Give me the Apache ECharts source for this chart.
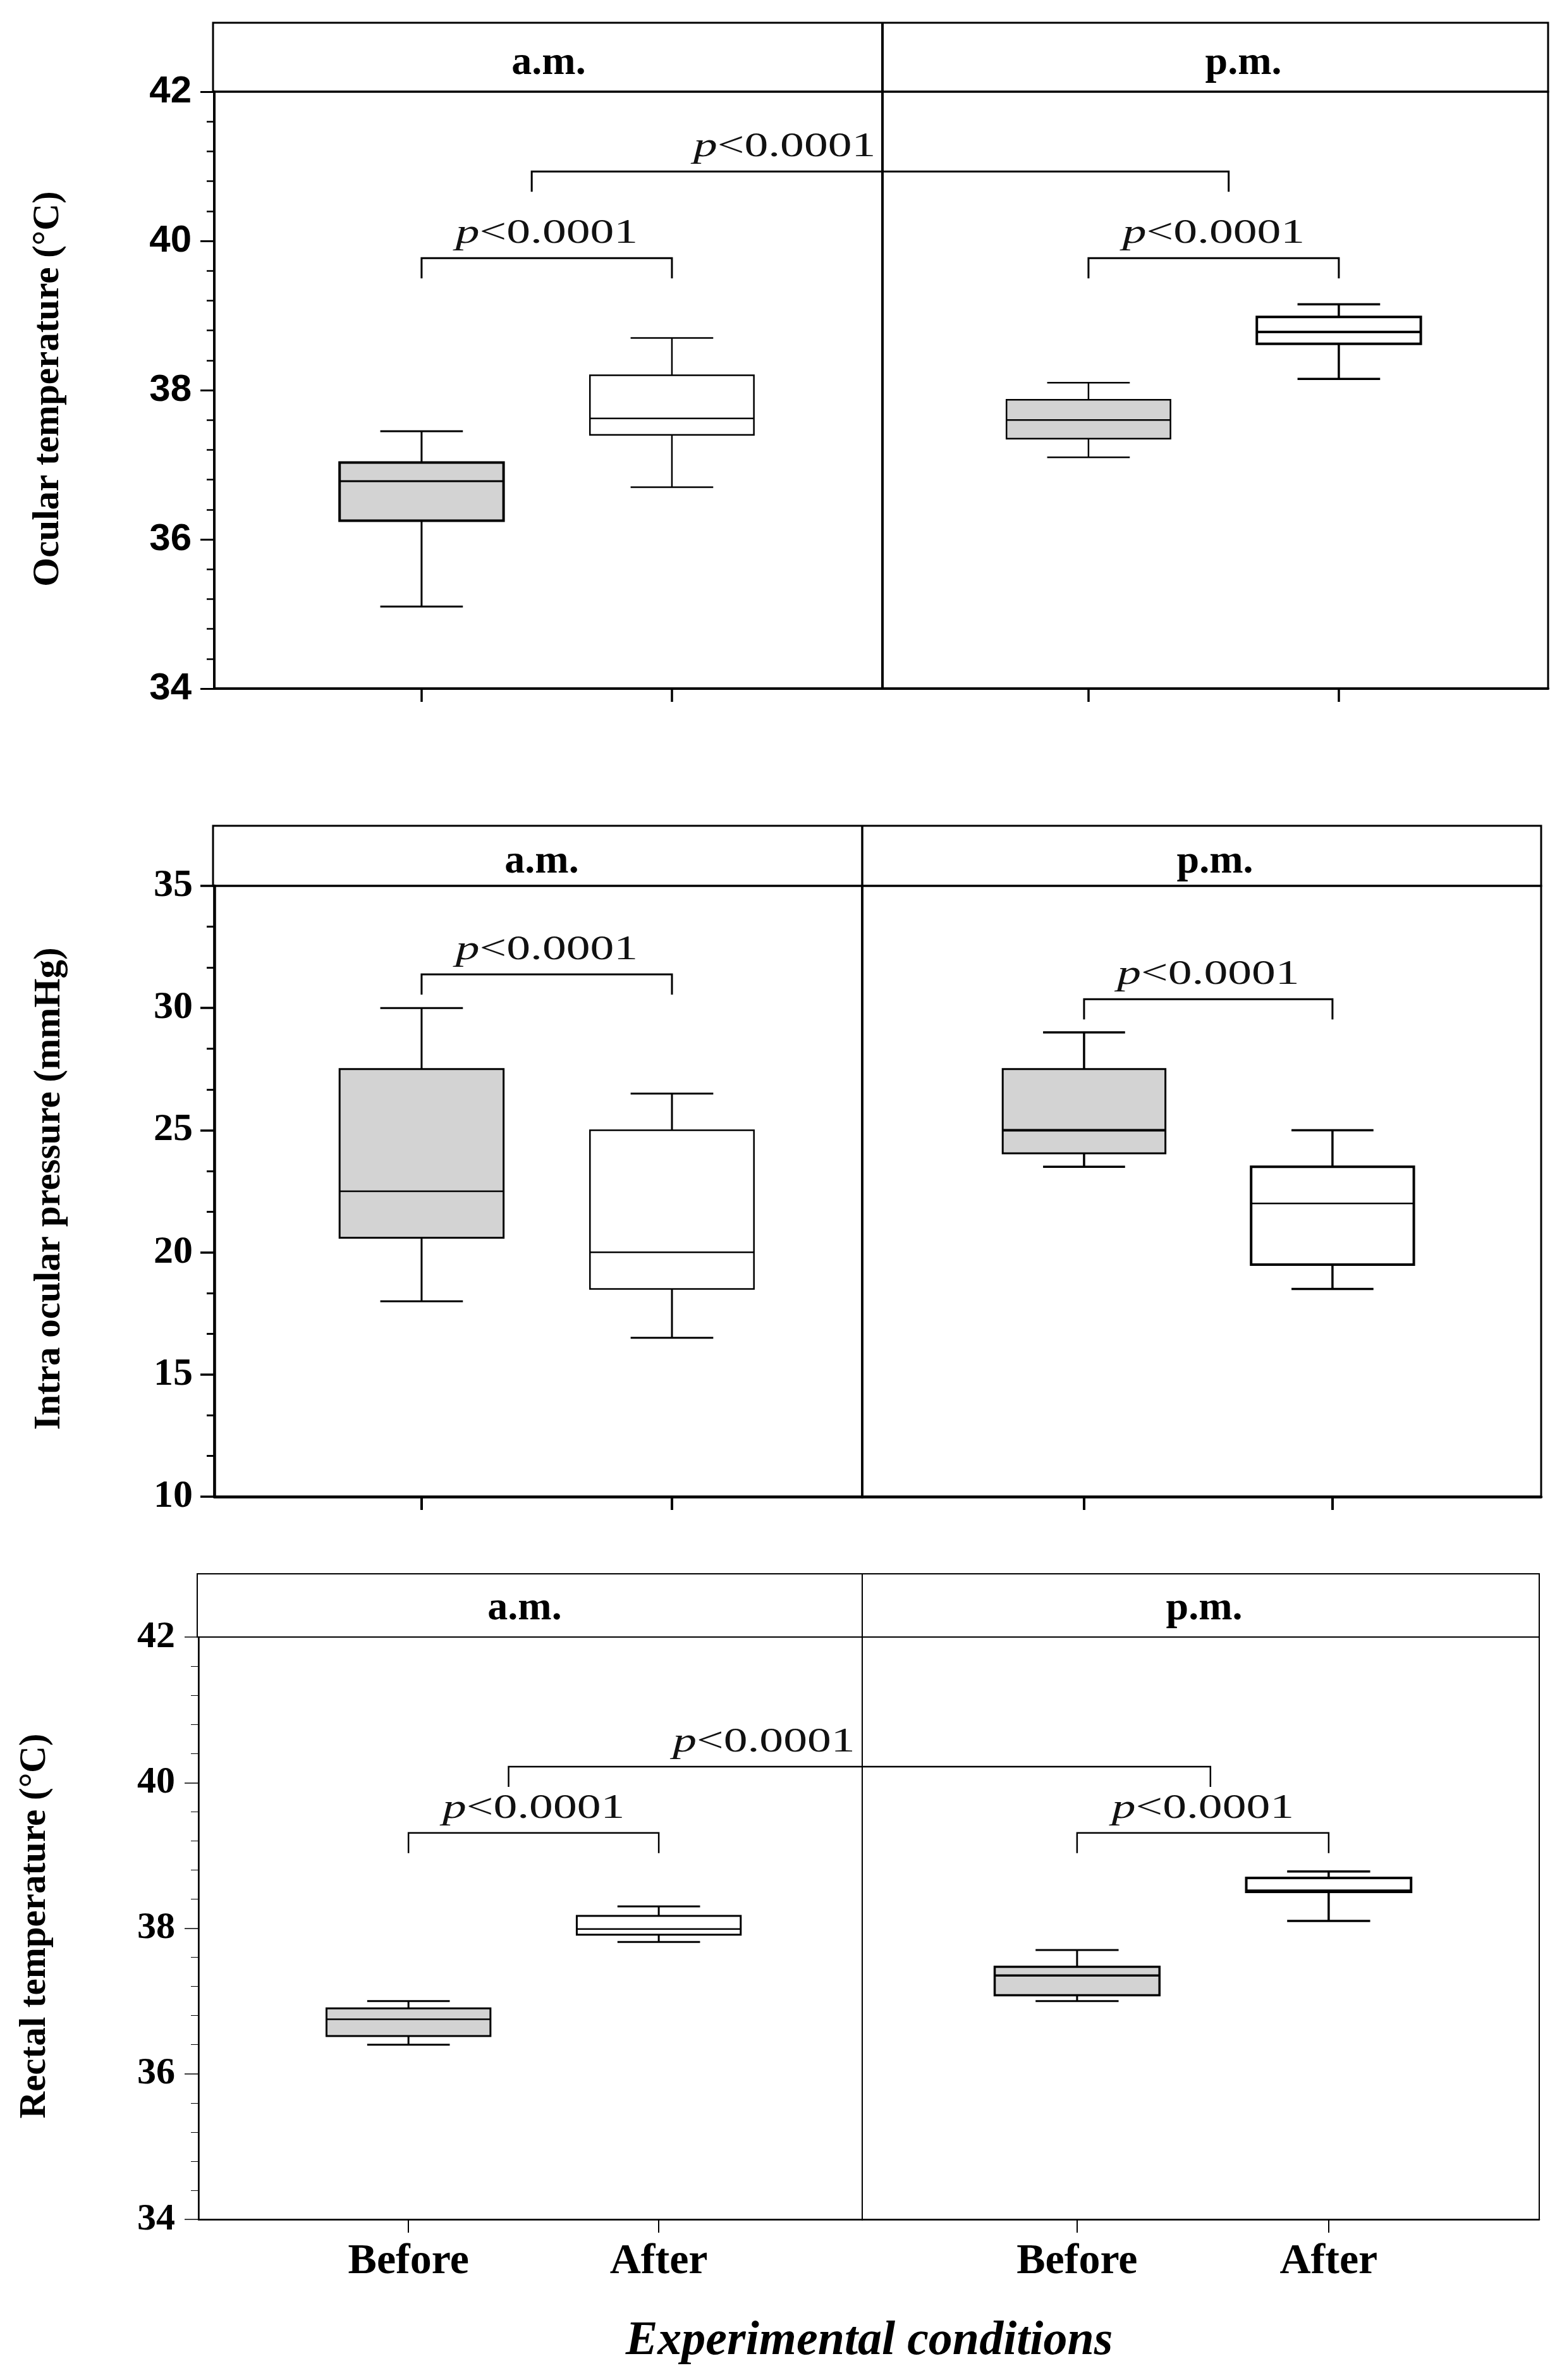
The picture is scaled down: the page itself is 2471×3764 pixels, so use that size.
<!DOCTYPE html>
<html>
<head>
<meta charset="utf-8">
<script src="https://cdn.jsdelivr.net/npm/echarts@6/dist/echarts.min.js"></script>
<style>
html,body{margin:0;padding:0;background:#fff;}
#chart{width:2471px;height:3764px;}
</style>
</head>
<body>
<div id="chart"></div>
<script>
// ---------------- DATA ----------------
const categories = ['Before', 'After'];
const sessions = ['a.m.', 'p.m.'];
const yTitles = ['Ocular temperature (°C)', 'Intra ocular pressure (mmHg)', 'Rectal temperature (°C)'];
const xTitle = 'Experimental conditions';
const pLabel = 'p<0.0001';

// box statistics: [min, Q1, median, Q3, max] for Before, After
const ocularAm = [[35.10, 36.25, 36.78, 37.03, 37.45], [36.70, 37.40, 37.62, 38.20, 38.70]];
const ocularPm = [[37.10, 37.35, 37.60, 37.87, 38.10], [38.15, 38.62, 38.78, 38.98, 39.15]];
const iopAm    = [[18.0, 20.6, 22.5, 27.5, 30.0], [16.5, 18.5, 20.0, 25.0, 26.5]];
const iopPm    = [[23.5, 24.05, 25.0, 27.5, 29.0], [18.5, 19.5, 22.0, 23.5, 25.0]];
const rectalAm = [[36.40, 36.52, 36.75, 36.90, 37.00], [37.81, 37.91, 37.99, 38.17, 38.30]];
const rectalPm = [[37.00, 37.08, 37.35, 37.47, 37.70], [38.10, 38.50, 38.52, 38.69, 38.78]];

// y-axis ticks [min, max, step]
const ocularTicks = [34, 42, 2];
const iopTicks    = [10, 35, 5];
const rectalTicks = [34, 42, 2];

// significance brackets (height of Before–After bracket in a.m., p.m.)
const ocularPairY = [39.77, 39.77];
const iopPairY    = [31.38, 30.36];
const rectalPairY = [39.31, 39.31];
// a.m. vs p.m. brackets: [height, a.m. end, p.m. end, label position on a.m. axis]
const ocularCross = [40.93, 1.44, 1.56, 2.45];
const rectalCross = [40.22, 1.40, 1.53, 2.42];

// ---------------- LAYOUT / STYLE ----------------
const SERIF = "'Liberation Serif','Times New Roman',serif";
const SANS = "'Liberation Sans',Arial,sans-serif";
const BOX_W = 0.655, CAP_W = 0.33, LEG = 32, TEXT_GAP = 38;
const boxFill = ['#d3d3d3', '#ffffff'];

const rows = [
  { top: 145, height: 944, left: 339, div: 1396, right: 2449, stripTop: 36,
    xAm: [0.172, 2.841], xPm: [0.177, 2.836], ticks: ocularTicks, minor: 5,
    axisW: 4, borderW: 3, divW: 4, stripW: 3, brW: 3, labelFont: SANS, labelSize: 60, labelMargin: 36,
    stripText: [[868, 100], [1967, 100]], title: [77, 615], showX: false,
    am: ocularAm, pm: ocularPm, pairY: ocularPairY, cross: ocularCross,
    styles: [[{bw:4,mw:3,wl:3},{bw:2.5,mw:2.5,wl:2.5}],[{bw:2.5,mw:2.5,wl:2.5},{bw:4,mw:4,wl:3.5}]] },
  { top: 1401, height: 966, left: 339, div: 1364, right: 2438, stripTop: 1306,
    xAm: [0.172, 2.760], xPm: [0.107, 2.840], ticks: iopTicks, minor: 3,
    axisW: 4.5, borderW: 3, divW: 3.5, stripW: 3, brW: 3, labelFont: SERIF, labelSize: 62, labelMargin: 34,
    stripText: [[857, 1363], [1922, 1363]], title: [79, 1880], showX: false,
    am: iopAm, pm: iopPm, pairY: iopPairY, cross: null,
    styles: [[{bw:3,mw:2.5,wl:3},{bw:2.5,mw:2.5,wl:3}],[{bw:3,mw:4,wl:3.5},{bw:4,mw:2.5,wl:3.5}]] },
  { top: 2589, height: 921, left: 314, div: 1364, right: 2435, stripTop: 2489,
    xAm: [0.161, 2.813], xPm: [0.146, 2.837], ticks: rectalTicks, minor: 5,
    axisW: 2.5, borderW: 2, divW: 2, stripW: 2, brW: 2.5, labelFont: SERIF, labelSize: 60, labelMargin: 37,
    stripText: [[830, 2544], [1905, 2544]], title: [56, 3046], showX: true,
    am: rectalAm, pm: rectalPm, pairY: rectalPairY, cross: rectalCross,
    styles: [[{bw:3,mw:2.5,wl:3},{bw:3,mw:2.5,wl:3}],[{bw:3.5,mw:3.5,wl:3},{bw:4,mw:3,wl:3.5}]] }
];

// ---------------- BUILD ----------------
const grid = [], xAxis = [], yAxis = [], series = [], graphic = [];

function boxSeries(gi, stats, styles) {
  return {
    type: 'custom', xAxisIndex: gi, yAxisIndex: gi, clip: false, z: 5,
    data: stats.map((s, i) => [i + 1].concat(s)),
    renderItem: function (params, api) {
      const x = api.value(0);
      const mn = api.value(1), q1 = api.value(2), md = api.value(3), q3 = api.value(4), mx = api.value(5);
      const st = styles[params.dataIndex];
      const cx = api.coord([x, md])[0];
      const tl = api.coord([x - BOX_W / 2, q3]);
      const br = api.coord([x + BOX_W / 2, q1]);
      const cl = api.coord([x - CAP_W / 2, mx])[0];
      const cr = api.coord([x + CAP_W / 2, mx])[0];
      const yMax = api.coord([x, mx])[1], yMin = api.coord([x, mn])[1], yMd = api.coord([x, md])[1];
      const ls = w => ({ stroke: '#000', lineWidth: w });
      return { type: 'group', children: [
        { type: 'line', shape: { x1: cx, y1: yMax, x2: cx, y2: tl[1] }, style: ls(st.wl) },
        { type: 'line', shape: { x1: cx, y1: br[1], x2: cx, y2: yMin }, style: ls(st.wl) },
        { type: 'line', shape: { x1: cl, y1: yMax, x2: cr, y2: yMax }, style: ls(st.wl) },
        { type: 'line', shape: { x1: cl, y1: yMin, x2: cr, y2: yMin }, style: ls(st.wl) },
        { type: 'rect', shape: { x: tl[0], y: tl[1], width: br[0] - tl[0], height: br[1] - tl[1] },
          style: { fill: boxFill[params.dataIndex], stroke: '#000', lineWidth: st.bw } },
        { type: 'line', shape: { x1: tl[0], y1: yMd, x2: br[0], y2: yMd }, style: ls(st.mw) }
      ] };
    }
  };
}

// items: [x1, x2, y, legLeft, legRight]
function bracketSeries(gi, items, w) {
  return {
    type: 'custom', xAxisIndex: gi, yAxisIndex: gi, clip: false, z: 6,
    data: items,
    renderItem: function (params, api) {
      const a = api.coord([api.value(0), api.value(2)]);
      const b = api.coord([api.value(1), api.value(2)]);
      const pts = [];
      if (api.value(3)) pts.push([a[0], a[1] + LEG]);
      pts.push(a, b);
      if (api.value(4)) pts.push([b[0], b[1] + LEG]);
      return { type: 'polyline', shape: { points: pts }, style: { stroke: '#000', lineWidth: w, fill: null } };
    }
  };
}

// items: [x, y]
function pTextSeries(gi, items) {
  return {
    type: 'custom', xAxisIndex: gi, yAxisIndex: gi, clip: false, z: 7,
    data: items,
    renderItem: function (params, api) {
      const p = api.coord([api.value(0), api.value(1)]);
      return { type: 'text', x: p[0], y: p[1] - TEXT_GAP, scaleX: 1.4,
        style: { x: 0, y: 0, text: '{i|p}' + pLabel.slice(1), fill: '#111', font: '54px ' + SERIF,
          textAlign: 'center', textVerticalAlign: 'middle', align: 'center', verticalAlign: 'middle',
          rich: { i: { fontStyle: 'italic', fontSize: 54, fontFamily: SERIF, fill: '#111' } } } };
    }
  };
}

rows.forEach((r, ri) => {
  const giA = ri * 2, giP = ri * 2 + 1;
  grid.push({ left: r.left, top: r.top, width: r.div - r.left, height: r.height,
    show: true, borderColor: '#000', borderWidth: r.borderW, backgroundColor: 'transparent' });
  grid.push({ left: r.div, top: r.top, width: r.right - r.div, height: r.height,
    show: true, borderColor: '#000', borderWidth: r.borderW, backgroundColor: 'transparent' });

  [r.xAm, r.xPm].forEach((rng, k) => {
    xAxis.push({
      type: 'value', gridIndex: ri * 2 + k, min: rng[0], max: rng[1],
      axisLine: { show: true, lineStyle: { color: '#000', width: r.axisW } },
      axisTick: { show: true, customValues: [1, 2], length: 21, lineStyle: { color: '#000', width: r.axisW - 0.5 } },
      axisLabel: { show: r.showX, customValues: [1, 2], formatter: v => categories[Math.round(v) - 1] || '',
        fontFamily: SERIF, fontWeight: 'bold', fontSize: 68, color: '#000', margin: 67, verticalAlign: 'middle' },
      splitLine: { show: false }
    });
  });

  yAxis.push({
    type: 'value', gridIndex: giA, min: r.ticks[0], max: r.ticks[1], interval: r.ticks[2],
    axisLine: { show: true, lineStyle: { color: '#000', width: r.axisW } },
    axisTick: { show: true, length: 22, lineStyle: { color: '#000', width: r.axisW - 1 } },
    minorTick: { show: true, splitNumber: r.minor, length: 12, lineStyle: { color: '#000', width: r.axisW - 1.5 } },
    axisLabel: { fontFamily: r.labelFont, fontWeight: 'bold', fontSize: r.labelSize, color: '#000', margin: r.labelMargin },
    splitLine: { show: false }
  });
  yAxis.push({
    type: 'value', gridIndex: giP, min: r.ticks[0], max: r.ticks[1], interval: r.ticks[2],
    axisLine: { show: true, lineStyle: { color: '#000', width: r.divW } },
    axisTick: { show: false }, axisLabel: { show: false }, splitLine: { show: false }
  });

  series.push(boxSeries(giA, r.am, r.styles[0]));
  series.push(boxSeries(giP, r.pm, r.styles[1]));

  const brA = [[1, 2, r.pairY[0], 1, 1]];
  const brP = [[1, 2, r.pairY[1], 1, 1]];
  const txA = [[1.5, r.pairY[0]]];
  const txP = [[1.5, r.pairY[1]]];
  if (r.cross) {
    brA.push([r.cross[1], r.xAm[1], r.cross[0], 1, 0]);
    brP.push([r.xPm[0], r.cross[2], r.cross[0], 0, 1]);
    txA.push([r.cross[3], r.cross[0]]);
  }
  series.push(bracketSeries(giA, brA, r.brW));
  series.push(bracketSeries(giP, brP, r.brW));
  series.push(pTextSeries(giA, txA));
  series.push(pTextSeries(giP, txP));

  // facet strip
  graphic.push({ type: 'rect', shape: { x: r.left - 2, y: r.stripTop, width: r.right - r.left + 2, height: r.top - r.stripTop },
    style: { fill: 'none', stroke: '#000', lineWidth: r.stripW }, z: 10 });
  graphic.push({ type: 'line', shape: { x1: r.div, y1: r.stripTop, x2: r.div, y2: r.top },
    style: { stroke: '#000', lineWidth: r.divW }, z: 10 });
  sessions.forEach((s, k) => {
    graphic.push({ type: 'text', x: r.stripText[k][0], y: r.stripText[k][1], z: 10,
      style: { text: s, fill: '#000', font: 'bold 64px ' + SERIF, textAlign: 'center', textVerticalAlign: 'middle' } });
  });
  // y title
  graphic.push({ type: 'text', x: r.title[0], y: r.title[1], rotation: Math.PI / 2, z: 10,
    style: { text: yTitles[ri], fill: '#000', font: 'bold 59px ' + SERIF, textAlign: 'center', textVerticalAlign: 'middle' } });
});

graphic.push({ type: 'text', x: 1375, y: 3703, z: 10,
  style: { text: xTitle, fill: '#000', font: 'italic bold 76px ' + SERIF, textAlign: 'center', textVerticalAlign: 'middle' } });

const chart = echarts.init(document.getElementById('chart'));
chart.setOption({
  animation: false,
  backgroundColor: '#fff',
  grid: grid, xAxis: xAxis, yAxis: yAxis, series: series, graphic: graphic
});
</script>
</body>
</html>
